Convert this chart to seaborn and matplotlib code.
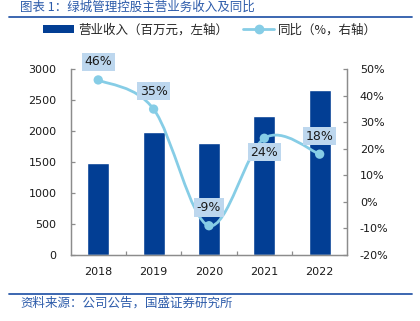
import numpy as np
import matplotlib
matplotlib.use("Agg")
import matplotlib.pyplot as plt
from matplotlib.path import Path
from matplotlib.patches import PathPatch, Patch
from matplotlib.lines import Line2D
import seaborn as sns

years = ["2018", "2019", "2020", "2021", "2022"]
revenue = [1480, 1990, 1810, 2240, 2660]          # 百万元
yoy = [46, 35, -9, 24, 18]                         # %
yoy_labels = ["46%", "35%", "-9%", "24%", "18%"]
label_offsets = [13, 13, 13, -10, 13]               # points, label box above/below the marker

BAR_C = "#023E94"
LINE_C = "#86CDE6"
BOX_C = "#BDD7EE"
HEAD_C = "#2C5BAA"
SPINE_C = "#8C8C8C"

sns.set_theme(style="white")
plt.rcParams["font.family"] = ["DejaVu Sans", "Noto Sans CJK SC"]
CJK = ["Noto Sans CJK SC", "DejaVu Sans"]

fig = plt.figure(figsize=(4.2, 3.21), dpi=100)
ax = fig.add_axes([0.168, 0.206, 0.659, 0.578])

sns.barplot(x=years, y=revenue, color=BAR_C, width=0.4, saturation=1, ax=ax)
ax.set_xlim(-0.5, len(years) - 0.5)
ax.set_ylim(0, 3000)
ax.set_yticks(np.arange(0, 3001, 500))
ax.set_xlabel("")
ax.set_ylabel("")

ax2 = ax.twinx()
ax2.set_ylim(-20, 50)
ax2.set_yticks(np.arange(-20, 51, 10))
ax2.set_yticklabels([f"{v}%" for v in range(-20, 51, 10)])

# smoothed line through the yoy points (Catmull-Rom as cubic Bezier segments)
xs = np.arange(len(years), dtype=float)
pts = np.column_stack([xs, np.array(yoy, dtype=float)])
verts = [tuple(pts[0])]
codes = [Path.MOVETO]
for i in range(len(pts) - 1):
    p0 = pts[max(i - 1, 0)]
    p1 = pts[i]
    p2 = pts[i + 1]
    p3 = pts[min(i + 2, len(pts) - 1)]
    c1 = p1 + (p2 - p0) / 6.0
    c2 = p2 - (p3 - p1) / 6.0
    verts += [tuple(c1), tuple(c2), tuple(p2)]
    codes += [Path.CURVE4] * 3
ax2.add_patch(PathPatch(Path(verts, codes), facecolor="none", edgecolor=LINE_C,
                        lw=2.0, zorder=3, capstyle="round"))
sns.scatterplot(x=xs, y=yoy, color=LINE_C, s=45, edgecolor="none", zorder=4, ax=ax2)

for x, y, lab, off in zip(xs, yoy, yoy_labels, label_offsets):
    ax2.annotate(lab, (x, y), xytext=(0, off), textcoords="offset points",
                 ha="center", va="center", fontsize=9, color="#1a1a1a", zorder=5,
                 bbox=dict(boxstyle="square,pad=0.22", fc=BOX_C, ec="none"))

for a in (ax, ax2):
    for s in ("left", "right", "bottom"):
        a.spines[s].set_visible(True)
        a.spines[s].set_color(SPINE_C)
        a.spines[s].set_linewidth(0.9)
    a.spines["top"].set_visible(False)

ax.tick_params(axis="y", direction="in", length=3, width=0.9, color=SPINE_C,
               pad=10, labelsize=8, labelcolor="#1a1a1a", left=True)
ax2.tick_params(axis="y", direction="in", length=3, width=0.9, color=SPINE_C,
                pad=9, labelsize=8, labelcolor="#1a1a1a", right=True)
ax.tick_params(axis="x", which="major", length=0, pad=9, labelsize=8, labelcolor="#1a1a1a")
ax.set_xticks(np.arange(0.5, len(years) - 1, 1.0), minor=True)
ax.tick_params(axis="x", which="minor", direction="in", length=3, width=0.9,
               color=SPINE_C, bottom=True)

handles = [
    Patch(facecolor=BAR_C, edgecolor="none", label="营业收入（百万元，左轴）"),
    Line2D([0], [0], color=LINE_C, lw=2, marker="o", markersize=6,
           label="同比（%，右轴）"),
]
fig.legend(handles=handles, loc="center", bbox_to_anchor=(0.5, 1 - 30 / 321),
           ncol=2, frameon=False, prop={"family": CJK, "size": 9},
           handlelength=2.5, handleheight=0.55, handletextpad=0.3, columnspacing=1.2)

# header and footer
fig.text(20 / 420, 1 - 7 / 321, "图表 1：绿城管理控股主营业务收入及同比", family=CJK,
         fontsize=9, color=HEAD_C, ha="left", va="center")
fig.add_artist(Line2D([9 / 420, 412 / 420], [1 - 17 / 321] * 2, color=HEAD_C, lw=1.3))
fig.add_artist(Line2D([9 / 420, 412 / 420], [1 - 294 / 321] * 2, color=HEAD_C, lw=1.3))
fig.text(20 / 420, 1 - 303 / 321, "资料来源：公司公告，国盛证券研究所", family=CJK,
         fontsize=9, color=HEAD_C, ha="left", va="center")

fig.savefig("out.png", dpi=100)
